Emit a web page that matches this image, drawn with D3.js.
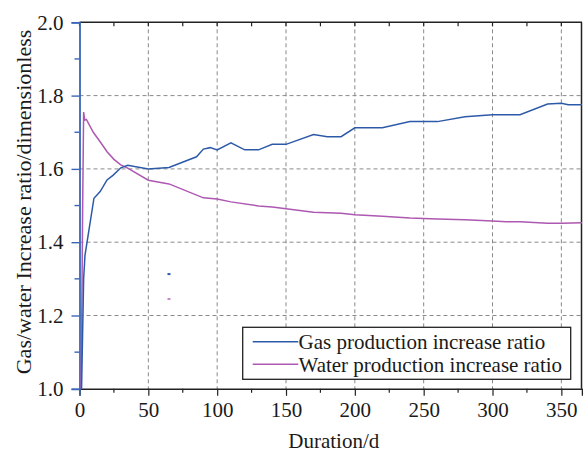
<!DOCTYPE html>
<html>
<head>
<meta charset="utf-8">
<script src="https://cdn.jsdelivr.net/npm/d3@7"></script>
<style>
  html, body { margin: 0; padding: 0; background: #fff; }
  svg { display: block; }
  text { font-family: "Liberation Serif", "Times New Roman", serif; fill: #1a1a1a; }
</style>
</head>
<body>
<svg id="chart" width="583" height="452"></svg>
<script>
// ---- data ----
const gasDays  = [1.5, 2.5, 3, 4, 10.5, 15, 20, 24.5, 30, 35, 50, 65, 85, 90, 95, 100, 110, 120, 130, 140, 150, 170, 180, 190, 200, 220, 240, 260, 280, 300, 320, 340, 350, 355, 365];
const gasRatio = [1.0, 1.2, 1.3, 1.365, 1.52, 1.538, 1.570, 1.583, 1.603, 1.610, 1.600, 1.604, 1.633, 1.654, 1.658, 1.652, 1.671, 1.652, 1.652, 1.667, 1.667, 1.694, 1.688, 1.688, 1.712, 1.712, 1.729, 1.729, 1.742, 1.748, 1.748, 1.777, 1.779, 1.775, 1.775];
const waterDays  = [1.2, 2.3, 3, 3.8, 5, 10, 15, 20, 25, 30, 35, 50, 65, 90, 100, 110, 130, 140, 150, 170, 190, 200, 220, 240, 260, 280, 300, 310, 320, 340, 350, 365];
const waterRatio = [1.0, 1.5, 1.755, 1.733, 1.735, 1.700, 1.674, 1.647, 1.626, 1.611, 1.602, 1.569, 1.559, 1.521, 1.518, 1.510, 1.499, 1.496, 1.491, 1.482, 1.479, 1.475, 1.471, 1.466, 1.463, 1.461, 1.458, 1.456, 1.456, 1.452, 1.452, 1.453];
const strayGas   = [[65, 1.313]];
const strayWater = [[65, 1.245]];
const xTicks = [0, 50, 100, 150, 200, 250, 300, 350];
const yTicks = [1.0, 1.2, 1.4, 1.6, 1.8, 2.0];
const seriesNames = ["Gas production increase ratio", "Water production increase ratio"];
const xLabel = "Duration/d";
const yLabel = "Gas/water Increase ratio/dimensionless";

// ---- layout ----
const GAS = "#2d5aa8", WATER = "#ad58b1", AXISBLUE = "#3a66b8";
const svg = d3.select("#chart");
const x = d3.scaleLinear().domain([0, 365]).range([79.5, 582]);
const y = d3.scaleLinear().domain([1, 2]).range([388.8, 22.3]);
const [x0, x1] = x.range(); const [y0, y1] = y.range();

// grid
const grid = svg.append("g").attr("stroke", "#8a8a8a").attr("stroke-width", 1).attr("stroke-dasharray", "4,3");
xTicks.filter(d => d > 0).forEach(d => grid.append("line").attr("x1", x(d)).attr("x2", x(d)).attr("y1", y1).attr("y2", y0));
yTicks.filter(d => d > 1 && d < 2).forEach(d => grid.append("line").attr("x1", x0).attr("x2", x1).attr("y1", y(d)).attr("y2", y(d)));

// frame top/right
svg.append("line").attr("x1", x0).attr("x2", x1).attr("y1", y1).attr("y2", y1).attr("stroke", "#222").attr("stroke-width", 1.5);
svg.append("line").attr("x1", x1 - 0.5).attr("x2", x1 - 0.5).attr("y1", y1).attr("y2", y0).attr("stroke", "#222").attr("stroke-width", 1.5);
// top ticks inward
d3.range(0, 366, 25).forEach(d => svg.append("line").attr("x1", x(d)).attr("x2", x(d)).attr("y1", y1).attr("y2", y1 + 4).attr("stroke", "#222").attr("stroke-width", 1.2));

// bottom axis
const xAxis = svg.append("g").attr("transform", `translate(0,${y0})`)
  .call(d3.axisBottom(x).tickValues(xTicks).tickSize(7).tickPadding(6).tickFormat(d3.format("d")));
xAxis.select(".domain").attr("stroke", "#222").attr("stroke-width", 1.5);
xAxis.selectAll(".tick line").attr("stroke", "#222").attr("stroke-width", 1.2);
xAxis.selectAll(".tick text").attr("font-size", 21).attr("font-family", "Liberation Serif").attr("fill", "#1a1a1a");
xAxis.selectAll(".tick").filter(d => d === 0).select("line").attr("stroke", AXISBLUE);
xAxis.selectAll(".tick").filter(d => d === 0).select("text").attr("fill", "#8f8f8f");
d3.range(25, 366, 50).forEach(d => svg.append("line").attr("x1", x(d)).attr("x2", x(d)).attr("y1", y0).attr("y2", y0 + 4).attr("stroke", "#222").attr("stroke-width", 1.2));

// left axis
const yAxis = svg.append("g").attr("transform", `translate(${x0},0)`)
  .call(d3.axisLeft(y).tickValues(yTicks).tickSize(8).tickPadding(8).tickFormat(d3.format(".1f")));
yAxis.select(".domain").attr("stroke", AXISBLUE).attr("stroke-width", 1.8);
yAxis.selectAll(".tick line").attr("stroke", AXISBLUE).attr("stroke-width", 1.4);
yAxis.selectAll(".tick text").attr("font-size", 21).attr("font-family", "Liberation Serif").attr("fill", "#1a1a1a");
[1.1, 1.3, 1.5, 1.7, 1.9].forEach(d => svg.append("line").attr("x1", x0 - 5).attr("x2", x0).attr("y1", y(d)).attr("y2", y(d)).attr("stroke", AXISBLUE).attr("stroke-width", 1.4));

// series
const line = d3.line().x(d => x(d[0])).y(d => y(d[1]));
const gasPts = gasDays.map((d, i) => [d, gasRatio[i]]);
const waterPts = waterDays.map((d, i) => [d, waterRatio[i]]);
svg.append("path").datum(waterPts).attr("d", line).attr("fill", "none").attr("stroke", WATER).attr("stroke-width", 1.5);
svg.append("path").datum(gasPts).attr("d", line).attr("fill", "none").attr("stroke", GAS).attr("stroke-width", 1.5);
strayGas.forEach(p => svg.append("rect").attr("x", x(p[0]) - 1.5).attr("y", y(p[1]) - 1).attr("width", 3).attr("height", 2).attr("fill", GAS));
strayWater.forEach(p => svg.append("rect").attr("x", x(p[0]) - 1.5).attr("y", y(p[1]) - 1).attr("width", 3).attr("height", 2).attr("fill", WATER).attr("opacity", 0.7));

// legend
const lg = svg.append("g");
lg.append("rect").attr("x", 242.7).attr("y", 327.3).attr("width", 328).attr("height", 52).attr("fill", "#fff").attr("stroke", "#222").attr("stroke-width", 1.3);
[GAS, WATER].forEach((c, i) => {
  const yy = 341.7 + i * 22.6;
  lg.append("line").attr("x1", 252.7).attr("x2", 298.3).attr("y1", yy).attr("y2", yy).attr("stroke", c).attr("stroke-width", 1.5);
  lg.append("text").attr("x", 298.5).attr("y", yy + 7.5).attr("font-size", 21).text(seriesNames[i]);
});

// axis labels
svg.append("text").attr("x", (x0 + x1) / 2 + 3).attr("y", 448).attr("text-anchor", "middle").attr("font-size", 21).text(xLabel);
svg.append("text").attr("transform", "translate(31,202) rotate(-90)").attr("text-anchor", "middle").attr("font-size", 22).text(yLabel);
</script>
</body>
</html>
